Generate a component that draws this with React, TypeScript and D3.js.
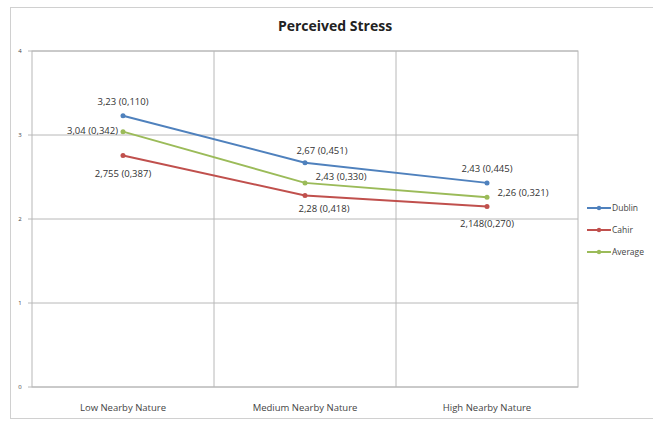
import React from "react";
import * as d3 from "d3";

const categories = ["Low Nearby Nature", "Medium Nearby Nature", "High Nearby Nature"];
const seriesNames = ["Dublin", "Cahir", "Average"];
const dublin = [3.23, 2.67, 2.43];
const cahir = [2.755, 2.28, 2.148];
const average = [3.04, 2.43, 2.26];
const dublinLabels = ["3,23 (0,110)", "2,67 (0,451)", "2,43 (0,445)"];
const cahirLabels = ["2,755 (0,387)", "2,28 (0,418)", "2,148(0,270)"];
const averageLabels = ["3,04 (0,342)", "2,43 (0,330)", "2,26 (0,321)"];
const yTicks = [0, 1, 2, 3, 4];
const colors = ["#4F81BD", "#C0504D", "#9BBB59"];

// label offsets (dx, dy, anchor) per series per point
const labelPos: [number, number, string][][] = [
  [[0, -14, "middle"], [17, -12, "middle"], [0, -14, "middle"]],
  [[0, 18, "middle"], [19, 14, "middle"], [0, 17, "middle"]],
  [[-5, -1, "end"], [36, -6, "middle"], [36, -4, "middle"]],
];

export default function App() {
  const W = 653, H = 421;
  const left = 32, right = 578, top = 51, bottom = 387;
  const x = d3.scaleBand<string>().domain(categories).range([left, right]);
  const y = d3.scaleLinear().domain([0, 4]).range([bottom, top]);
  const data = [dublin, cahir, average];
  const labels = [dublinLabels, cahirLabels, averageLabels];
  const cx = (c: string) => (x(c) as number) + x.bandwidth() / 2;
  const line = d3
    .line<number>()
    .x((_, i) => cx(categories[i]))
    .y((d) => y(d));
  const font = "'Open Sans', sans-serif";
  const legendY = [208, 230, 252];

  return (
    <svg
      width={W}
      height={H}
      style={{ position: "absolute", left: 0, top: 0, background: "#fff" }}
      fontFamily={font}
    >
      <rect x={10.5} y={7.5} width={660} height={411} fill="#fff" stroke="#d0d0d0" />
      <text x={335} y={31} textAnchor="middle" fontSize={14} fontWeight="bold" fill="#222">
        Perceived Stress
      </text>
      {yTicks.map((t) => (
        <g key={t}>
          <line x1={left} x2={right} y1={y(t)} y2={y(t)} stroke="#b8b8b8" strokeWidth={1} />
          <line x1={left - 4} x2={left} y1={y(t)} y2={y(t)} stroke="#b8b8b8" />
          <text x={20} y={y(t) + 2} fontSize={6} textAnchor="middle" fill="#444">
            {t}
          </text>
        </g>
      ))}
      {categories.slice(1).map((c) => (
        <line key={c} x1={x(c)} x2={x(c)} y1={top} y2={bottom} stroke="#b8b8b8" />
      ))}
      <rect x={left} y={top} width={right - left} height={bottom - top} fill="none" stroke="#b8b8b8" />
      {categories.map((c) => (
        <text key={c} x={cx(c)} y={411} fontSize={9.5} textAnchor="middle" fill="#444">
          {c}
        </text>
      ))}
      {data.map((s, si) => (
        <g key={si}>
          <path d={line(s) || ""} fill="none" stroke={colors[si]} strokeWidth={2} />
          {s.map((v, i) => (
            <circle key={i} cx={cx(categories[i])} cy={y(v)} r={2.5} fill={colors[si]} />
          ))}
          {s.map((v, i) => {
            const [dx, dy, anchor] = labelPos[si][i];
            return (
              <text
                key={"l" + i}
                x={cx(categories[i]) + dx}
                y={y(v) + dy + 3}
                fontSize={9.5}
                textAnchor={anchor as any}
                fill="#333"
              >
                {labels[si][i]}
              </text>
            );
          })}
        </g>
      ))}
      {seriesNames.map((n, i) => (
        <g key={n}>
          <line x1={587} x2={611} y1={legendY[i]} y2={legendY[i]} stroke={colors[i]} strokeWidth={2} />
          <circle cx={599} cy={legendY[i]} r={2.2} fill={colors[i]} />
          <text x={612} y={legendY[i] + 3} fontSize={8.5} fill="#444">
            {n}
          </text>
        </g>
      ))}
    </svg>
  );
}
